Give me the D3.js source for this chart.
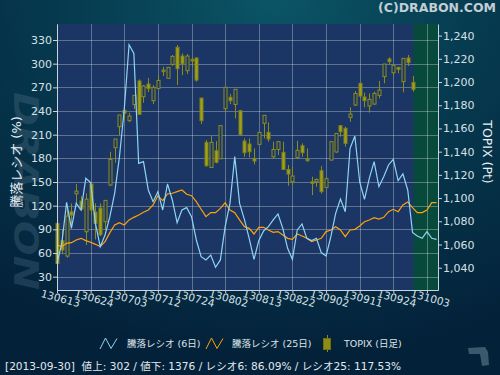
<!DOCTYPE html>
<html>
<head>
<meta charset="utf-8">
<script src="https://cdn.jsdelivr.net/npm/d3@7"></script>
<style>
  body { margin: 0; background: #03233a; }
  svg { display: block; }
  text { font-family: "DejaVu Sans", "Noto Sans CJK JP", sans-serif; }
</style>
</head>
<body>
<svg id="chart" width="500" height="375"></svg>
<script>
// x axis labels (every 7 trading days) and their day index
var tickLabels = ["130613","130624","130703","130712","130724","130802","130813","130822","130902","130911","130924","131003"];
var tickIndex = [0,7,14,21,28,35,42,49,56,63,70,77];

var leftTicks = [30,60,90,120,150,180,210,240,270,300,330];
var rightTicks = [1040,1060,1080,1100,1120,1140,1160,1180,1200,1220,1240];

// 騰落レシオ 6日
var ratio6 = [46.9,72.3,124.3,91.3,123.0,114.5,154.7,149.2,97.6,68.0,82.9,106.1,135.7,182.1,242.3,324.0,313.1,173.7,175.8,139.9,125.1,
  137.8,114.5,147.5,127.2,98.5,114.5,117.5,106.1,76.5,55.4,51.2,57.5,41.9,51.2,93.4,123.0,182.1,123.0,102.7,78.6,
  52.0,75.7,87.9,93.4,101.9,109.5,91.3,65.9,52.0,89.2,96.8,78.6,75.7,78.6,60.5,56.2,80.7,110.3,128.5,112.4,
  192.7,208.3,150.0,128.1,154.7,175.8,144.1,156.8,171.6,178.7,151.7,160.2,139.9,86.1,81.6,78.6,87.1,78.6,77.3];

// 騰落レシオ 25日
var ratio25 = [70.2,68.1,72.3,73.1,76.5,78.6,75.7,73.6,71.0,68.1,74.4,85.8,95.5,98.5,95.5,101.9,105.2,108.2,111.6,114.5,120.9,
  132.7,126.4,134.8,135.7,137.8,139.9,134.4,132.7,125.1,115.4,106.1,111.2,111.2,116.6,123.8,114.5,111.2,101.9,93.4,91.3,
  84.1,92.6,92.6,89.2,86.2,87.1,82.9,78.6,77.3,84.1,81.6,78.6,74.4,76.5,78.6,87.1,89.2,93.4,89.2,80.7,
  89.2,90.0,94.3,99.7,101.9,104.8,103.1,105.2,112.4,115.4,112.4,120.9,124.7,117.5,111.2,111.2,114.5,123.8,123.8];

// TOPIX daily candles
var topixOpen = [1078.2,1063.2,1050.0,1088.2,1103.7,1097.4,1071.0,1112.1,1087.9,1091.4,1079.6,1111.2,1143.4,1161.5,1175.6,1166.7,1180.7,1200.9,1187.3,1198.3,
  1183.9,1194.5,1210.3,1203.2,1215.2,1229.9,1222.4,1209.8,1219.5,1220.7,1186.2,1148.0,1126.4,1140.8,1133.9,1177.0,1186.8,1180.7,1175.3,1149.1,
  1146.6,1134.2,1146.3,1164.4,1156.6,1135.6,1141.9,1139.4,1124.7,1114.1,1134.8,1145.1,1133.6,1114.1,1114.1,1123.6,1109.2,1132.8,1139.7,1162.4,
  1160.1,1169.6,1180.2,1198.9,1187.1,1179.3,1181.0,1188.5,1204.6,1219.8,1208.0,1212.6,1200.3,1220.7,1199.7];
var topixHigh = [1078.7,1073.0,1092.5,1095.4,1112.1,1101.7,1104.0,1113.2,1095.4,1095.4,1098.3,1139.9,1150.9,1171.6,1175.9,1173.6,1188.5,1202.3,1197.4,1203.5,
  1197.4,1206.0,1213.2,1212.6,1223.3,1231.9,1224.7,1224.1,1221.3,1221.3,1186.2,1150.0,1153.4,1149.1,1162.4,1195.4,1189.7,1193.7,1175.9,1151.4,
  1151.4,1142.8,1156.6,1171.3,1165.2,1148.6,1148.6,1148.6,1128.5,1127.0,1149.4,1147.1,1142.8,1118.4,1117.0,1127.6,1118.4,1148.6,1155.7,1162.9,
  1161.5,1178.2,1192.2,1198.9,1190.8,1190.2,1191.7,1200.9,1215.5,1221.3,1215.5,1213.2,1220.4,1223.3,1205.2];
var topixLow = [1039.4,1051.7,1048.6,1075.9,1095.4,1088.8,1059.5,1085.3,1064.4,1067.2,1072.4,1110.3,1130.5,1154.3,1166.7,1165.5,1176.7,1172.1,1182.2,1191.4,
  1181.0,1193.7,1205.2,1203.2,1213.8,1197.4,1206.0,1206.9,1213.2,1200.3,1163.8,1127.0,1125.9,1129.9,1133.9,1174.4,1181.0,1168.7,1153.5,1135.6,
  1135.1,1129.0,1145.7,1151.4,1148.6,1134.2,1137.1,1124.1,1110.6,1111.2,1133.6,1135.6,1131.3,1102.6,1109.8,1104.0,1108.3,1132.2,1139.1,1152.9,
  1144.3,1165.8,1179.3,1185.9,1178.2,1173.6,1180.2,1185.9,1198.9,1215.2,1205.5,1207.5,1191.1,1213.8,1191.7];
var topixClose = [1043.7,1055.2,1084.5,1085.3,1106.0,1090.5,1099.1,1089.7,1078.2,1068.4,1098.0,1133.3,1150.9,1171.6,1173.0,1170.7,1188.5,1172.1,1196.6,1194.3,
  1195.4,1201.4,1208.9,1212.6,1222.1,1211.5,1215.8,1222.4,1218.1,1201.7,1166.7,1127.9,1148.0,1130.8,1162.4,1195.4,1183.9,1193.7,1154.9,1139.1,
  1139.9,1131.9,1156.6,1171.3,1150.9,1141.9,1148.6,1124.7,1120.7,1119.0,1141.1,1139.1,1132.2,1112.6,1116.1,1105.5,1116.7,1148.6,1155.7,1157.2,
  1147.1,1172.4,1190.2,1187.9,1183.9,1185.1,1190.2,1193.1,1215.5,1217.5,1214.4,1210.9,1220.4,1216.7,1193.7];

var footerDate = "2013-09-30", advances = 302, declines = 1376;
var footerRatio6 = "86.09", footerRatio25 = "117.53";

var svg = d3.select("#chart");
var W = 500, H = 375;
var pl = 57, pr = 438, pt = 24, pb = 290;

var xScale = d3.scaleLinear().domain([0, 79.3]).range([pl, pr]);
var yLeft = d3.scaleLinear().domain([13.1, 350.3]).range([pb, pt]);
var yRight = d3.scaleLinear().domain([1020.8, 1250]).range([pb, pt]);

// background
var defs = svg.append("defs");
var bg = defs.append("radialGradient").attr("id", "bg")
  .attr("cx", "0.55").attr("cy", "0").attr("r", "0.95");
bg.append("stop").attr("offset", "0").attr("stop-color", "#0b5566");
bg.append("stop").attr("offset", "0.45").attr("stop-color", "#063a4f");
bg.append("stop").attr("offset", "1").attr("stop-color", "#03223a");
svg.append("rect").attr("width", W).attr("height", H).attr("fill", "url(#bg)");

// watermark
svg.append("text")
  .attr("transform", "translate(14,92) rotate(90)")
  .attr("font-size", 33).attr("font-weight", "bold").attr("font-style", "italic")
  .attr("textLength", 198).attr("lengthAdjust", "spacingAndGlyphs")
  .attr("fill", "rgba(120,150,172,0.22)")
  .text("DRABON");

// plot area
svg.append("rect").attr("x", pl).attr("y", pt).attr("width", pr - pl).attr("height", pb - pt)
  .attr("fill", "#1b3664");
var lastIdx = topixClose.length - 1;
svg.append("rect").attr("x", xScale(lastIdx) + 1).attr("y", pt)
  .attr("width", pr - xScale(lastIdx) - 1).attr("height", pb - pt)
  .attr("fill", "#074a3b");

// grid
var grid = svg.append("g").attr("stroke", "rgba(255,255,255,0.3)").attr("stroke-width", 1);
grid.selectAll(".gh").data(leftTicks).enter().append("line")
  .attr("x1", pl).attr("x2", pr)
  .attr("y1", d => Math.round(yLeft(d)) + 0.5).attr("y2", d => Math.round(yLeft(d)) + 0.5);
grid.selectAll(".gv").data(tickIndex).enter().append("line")
  .attr("y1", pt).attr("y2", pb)
  .attr("x1", d => Math.round(xScale(d)) + 0.5).attr("x2", d => Math.round(xScale(d)) + 0.5);

// candles
var candles = svg.append("g");
topixClose.forEach(function(c, i) {
  var o = topixOpen[i];
  var cx = Math.round(xScale(i)) + 0.5;
  var up = c >= o;
  candles.append("line")
    .attr("x1", cx).attr("x2", cx)
    .attr("y1", yRight(topixHigh[i])).attr("y2", yRight(topixLow[i]))
    .attr("stroke", "#8c8c18").attr("stroke-width", 1);
  var yTop = yRight(Math.max(o, c)), yBot = yRight(Math.min(o, c));
  candles.append("rect")
    .attr("x", cx - 1.5).attr("width", 3)
    .attr("y", yTop).attr("height", Math.max(1, yBot - yTop))
    .attr("fill", up ? "#1b3664" : "#a2a214")
    .attr("stroke", up ? "#8e8e1c" : "#80801a").attr("stroke-width", 1);
});

// ratio lines
var line = d3.line().x((d, i) => xScale(i)).y(d => yLeft(d));
svg.append("path").datum(ratio25).attr("d", line)
  .attr("fill", "none").attr("stroke", "#ffa30a").attr("stroke-width", 1.2);
svg.append("path").datum(ratio6).attr("d", line)
  .attr("fill", "none").attr("stroke", "#8fd4f4").attr("stroke-width", 1.2);

// axes
var axisColor = "#c9d3dc", labelColor = "#d8e0e6";
var gl = svg.append("g").attr("transform", "translate(" + pl + ",0)")
  .call(d3.axisLeft(yLeft).tickValues(leftTicks).tickSize(4).tickSizeOuter(0).tickPadding(1));
var gr = svg.append("g").attr("transform", "translate(" + pr + ",0)")
  .call(d3.axisRight(yRight).tickValues(rightTicks).tickFormat(d3.format(",")).tickSize(4).tickSizeOuter(0).tickPadding(1));
var gb = svg.append("g").attr("transform", "translate(0," + pb + ")")
  .call(d3.axisBottom(xScale).tickValues(tickIndex).tickFormat((d, i) => tickLabels[i]).tickSize(3).tickSizeOuter(0));
[gl, gr, gb].forEach(function(g) {
  g.select(".domain").attr("stroke", axisColor);
  g.selectAll(".tick line").attr("stroke", axisColor);
  g.selectAll("text").attr("fill", labelColor).attr("font-family", "DejaVu Sans").attr("font-size", 11);
});
gb.selectAll(".tick text")
  .attr("font-size", 10.5)
  .attr("y", 0).attr("dy", 0)
  .attr("transform", "translate(2,12) rotate(15)")
  .attr("text-anchor", "middle");

// axis titles
svg.append("text").attr("transform", "translate(16,162) rotate(-90)")
  .attr("text-anchor", "middle").attr("dy", "0.35em")
  .attr("font-size", 13).attr("fill", "#e8eef2").text("騰落レシオ (%)");
svg.append("text").attr("transform", "translate(487,152) rotate(90)")
  .attr("text-anchor", "middle").attr("dy", "0.35em")
  .attr("font-size", 12.5).attr("fill", "#e8eef2").text("TOPIX (Pt)");

// title
svg.append("text").attr("x", 496).attr("y", 12).attr("text-anchor", "end")
  .attr("font-family", "Liberation Sans").attr("font-weight", "bold").attr("font-size", 12.5)
  .attr("fill", "#c2ced3").text("(C)DRABON.COM");

// legend
var lg = svg.append("g");
lg.append("path").attr("d", "M100,349 L105.5,338 L111,348.5 L117,338.5")
  .attr("fill", "none").attr("stroke", "#8fd4f4").attr("stroke-width", 1);
lg.append("text").attr("x", 127).attr("y", 347).attr("font-size", 9.5).attr("fill", "#dde4ea").text("騰落レシオ (6日)");
lg.append("path").attr("d", "M206,349 L211.5,338 L217,348.5 L223,338.5")
  .attr("fill", "none").attr("stroke", "#ffa30a").attr("stroke-width", 1);
lg.append("text").attr("x", 232).attr("y", 347).attr("font-size", 9.5).attr("fill", "#dde4ea").text("騰落レシオ (25日)");
lg.append("line").attr("x1", 327.5).attr("x2", 327.5).attr("y1", 335).attr("y2", 352)
  .attr("stroke", "#8c8c18");
lg.append("rect").attr("x", 323.5).attr("y", 338.5).attr("width", 7).attr("height", 11)
  .attr("fill", "#8e8e12").attr("stroke", "#6e6e14");
lg.append("text").attr("x", 344).attr("y", 347).attr("font-size", 9.5).attr("fill", "#dde4ea").text("TOPIX (日足)");

// footer
svg.append("text").attr("x", 5).attr("y", 369.5).attr("font-size", 10.6).attr("fill", "#e2e8ec")
  .style("white-space", "pre")
  .text("[" + footerDate + "]  値上: " + advances + " / 値下: " + declines +
        " / レシオ6: " + footerRatio6 + "% / レシオ25: " + footerRatio25 + "%");

// small logo at bottom right
svg.append("path")
  .attr("d", "M468,348 L485,347 L488,352 L489,365 L482,366 L480,354 L469,354 Z")
  .attr("fill", "#3a5a6b");
</script>
</body>
</html>
